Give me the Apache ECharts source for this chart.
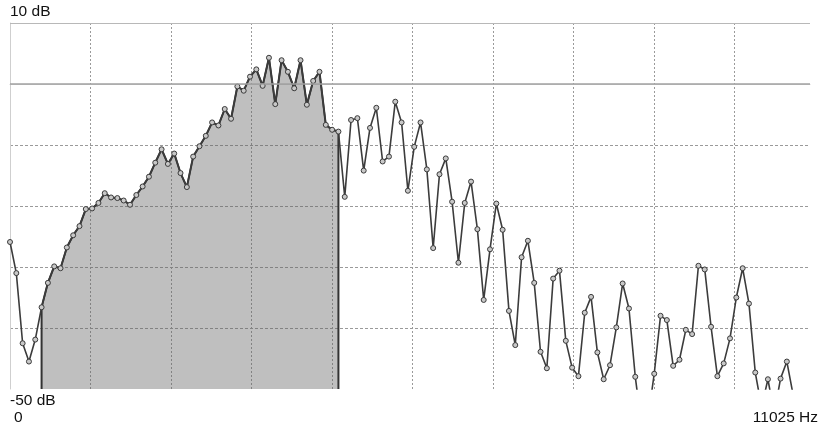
<!DOCTYPE html>
<html>
<head>
<meta charset="utf-8">
<script src="https://cdn.jsdelivr.net/npm/echarts@6/dist/echarts.min.js"></script>
<style>
html,body{margin:0;padding:0;background:#ffffff;}
#chart{width:820px;height:427px;}
</style>
</head>
<body>
<div id="chart"></div>
<script>
// Spectrum levels (dB) for each frequency bin
const dbValues = [
  -25.9, -31.0, -42.5, -45.5, -41.9, -36.6, -32.6, -29.9, -30.2, -26.8,
  -24.8, -23.3, -20.5, -20.4, -19.5, -17.9, -18.6, -18.7, -19.1, -19.8,
  -18.2, -16.8, -15.2, -12.9, -10.7, -13.1, -11.4, -14.6, -16.9, -11.9,
  -10.2, -8.5, -6.3, -6.8, -4.1, -5.7, -0.4, -1.1, 1.2, 2.4,
  -0.3, 4.3, -3.3, 3.9, 2.0, -0.7, 3.9, -3.4, 0.5, 2.0,
  -6.7, -7.5, -7.8, -18.5, -5.9, -5.6, -14.2, -7.2, -3.9, -12.7,
  -11.9, -2.9, -6.3, -17.5, -10.3, -6.3, -14.0, -26.9, -14.8, -12.2,
  -19.3, -29.3, -19.5, -16.0, -23.8, -35.4, -27.1, -19.6, -23.9, -37.2,
  -42.8, -28.4, -25.7, -32.6, -43.9, -46.6, -31.9, -30.6, -42.1, -46.5,
  -47.9, -37.5, -34.9, -44.0, -48.4, -46.1, -39.9, -32.7, -36.8, -48.0,
  -56.0, -55.0, -47.5, -38.0, -38.7, -46.2, -45.2, -40.3, -41.0, -29.8,
  -30.4, -39.8, -47.9, -45.8, -41.7, -35.0, -30.2, -36.0, -47.3, -53.0,
  -48.4, -54.0, -48.3, -45.5, -51.0, -56.0
];
const binHz = 86.5;            // bin spacing in Hz
const selStart = 5;            // first bin of shaded selection
const selEnd = 52;             // last bin of shaded selection
const dbMin = -50, dbMax = 10, dbStep = 10;
const hzStep = 1102.5;
const hzVisibleMax = 10956.5;
const cornerLabels = { top: '10 dB', bottom: '-50 dB', left: '0', right: '11025 Hz' };

const lineData = dbValues.map((v, i) => [i * binHz, v]);
const areaData = [[selStart * binHz, dbMin]]
  .concat(dbValues.slice(selStart, selEnd + 1).map((v, k) => [(selStart + k) * binHz, v]))
  .concat([[selEnd * binHz, dbMin]]);

const chart = echarts.init(document.getElementById('chart'), null, { renderer: 'canvas' });
const font = '15.5px "Liberation Sans", Arial, sans-serif';
chart.setOption({
  animation: false,
  backgroundColor: '#ffffff',
  grid: { left: 10, top: 23, width: 800, height: 366, containLabel: false },
  xAxis: {
    type: 'value', min: 0, max: hzVisibleMax, interval: hzStep,
    axisLabel: { show: false }, axisTick: { show: false },
    axisLine: { show: true, lineStyle: { color: '#cfcfcf', width: 1 } },
    splitLine: { show: true, showMinLine: false, showMaxLine: false,
      lineStyle: { color: '#9a9a9a', type: [2, 2], width: 1 } }
  },
  yAxis: {
    type: 'value', min: dbMin, max: dbMax, interval: dbStep,
    axisLabel: { show: false }, axisTick: { show: false },
    axisLine: { show: true, lineStyle: { color: '#cfcfcf', width: 1 } },
    splitLine: { show: true, showMinLine: false, showMaxLine: false,
      lineStyle: { color: '#9a9a9a', type: [3, 2], width: 1 } }
  },
  series: [
    {
      type: 'line', data: areaData, symbol: 'none', z: 2,
      lineStyle: { color: '#333333', width: 2 },
      areaStyle: { origin: 'start', color: 'rgba(95,95,95,0.4)', opacity: 1 },
      markLine: {
        silent: true, symbol: 'none', label: { show: false },
        data: [
          { yAxis: dbMax, lineStyle: { color: '#b8b8b8', width: 1.2, type: 'solid' } },
          { yAxis: 0, lineStyle: { color: '#a2a2a2', width: 1.6, type: 'solid' } }
        ]
      }
    },
    {
      type: 'line', data: lineData, z: 4,
      symbol: 'circle', symbolSize: 5, showAllSymbol: true,
      lineStyle: { color: '#3c3c3c', width: 1.6 },
      itemStyle: { color: '#c8c8c8', borderColor: '#3a3a3a', borderWidth: 1 }
    }
  ],
  graphic: [
    { type: 'text', left: 10, top: 4, style: { text: cornerLabels.top, font: font, fill: '#111' } },
    { type: 'text', left: 10, top: 393, style: { text: cornerLabels.bottom, font: font, fill: '#111' } },
    { type: 'text', left: 14, top: 410, style: { text: cornerLabels.left, font: font, fill: '#111' } },
    { type: 'text', right: 2, top: 410, style: { text: cornerLabels.right, font: font, fill: '#111' } }
  ]
});
</script>
</body>
</html>
